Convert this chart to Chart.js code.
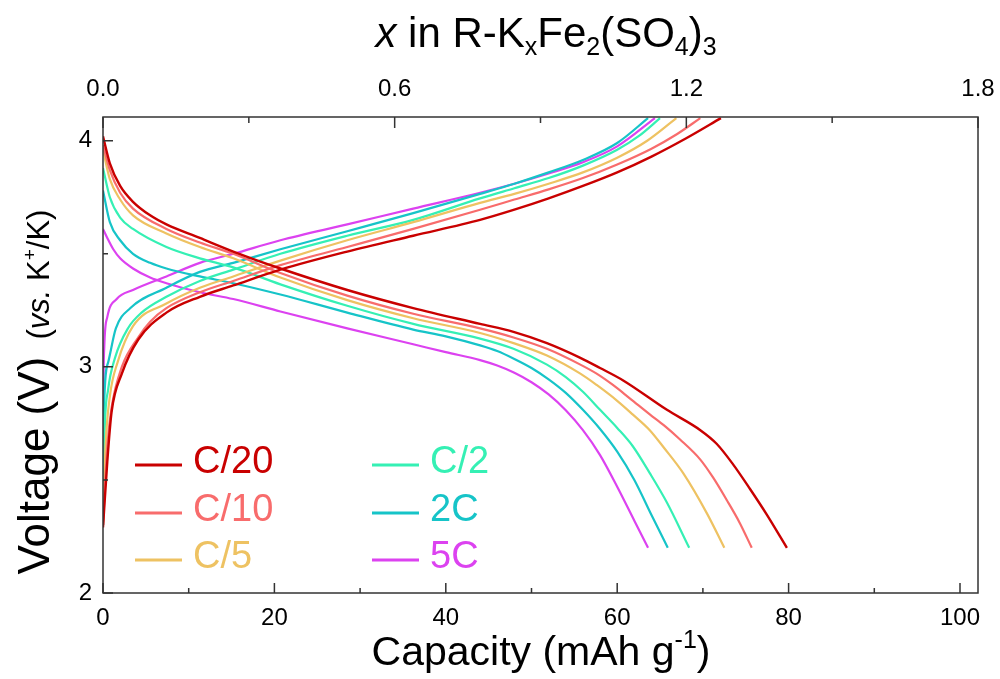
<!DOCTYPE html>
<html>
<head>
<meta charset="utf-8">
<script src="https://cdn.jsdelivr.net/npm/chart.js@4.4.1/dist/chart.umd.min.js"></script>
<style>
  html, body { margin: 0; padding: 0; background: #fff; }
  #wrap { width: 1000px; height: 679px; }
</style>
</head>
<body>
<div id="wrap"><canvas id="chart" width="1000" height="679"></canvas></div>
<script>
// rates and colours
const rateLabels = ['C/20', 'C/10', 'C/5', 'C/2', '2C', '5C'];
const rateColors = ['#c90000', '#f86c6c', '#eec262', '#35f0b4', '#16c4c8', '#dc42f0'];

// charge curves [capacity mAh/g, voltage V]
const c20Charge = [[0,2.29],[0.5,2.58],[1.0,2.80],[2.2,2.97],[4.1,3.12],[7.4,3.24],[11.3,3.31],[15.2,3.36],[20.7,3.43],[28.5,3.51],[36.2,3.58],[44,3.65],[48,3.695],[52,3.745],[56,3.80],[60,3.86],[64,3.93],[68,4.01],[72.1,4.10]];
const c10Charge = [[0,2.30],[0.5,2.65],[1.0,2.82],[2.2,3.00],[4.1,3.13],[5.5,3.20],[7.4,3.26],[11.3,3.33],[15.2,3.38],[20.7,3.45],[28.5,3.53],[36.2,3.61],[44,3.695],[48,3.74],[52,3.785],[56,3.835],[60,3.895],[64,3.965],[67,4.03],[69.7,4.10]];
const c5Charge = [[0,2.30],[0.3,2.65],[0.8,2.87],[1.7,3.02],[3.5,3.18],[7.4,3.28],[11.3,3.35],[15.2,3.40],[20.7,3.47],[28.5,3.56],[36.2,3.64],[44,3.725],[48,3.765],[52,3.81],[56,3.86],[60,3.925],[63.5,4.00],[66.9,4.10]];
const c2Charge = [[0,2.30],[0.2,2.72],[0.6,2.90],[1.4,3.04],[2.9,3.17],[4.5,3.24],[7.4,3.31],[11.3,3.38],[15.2,3.43],[20.7,3.50],[28.5,3.58],[36.2,3.65],[44,3.745],[48,3.79],[52,3.835],[56,3.89],[60,3.96],[62.5,4.02],[65,4.10]];
const twoCCharge = [[0,2.30],[0.1,2.80],[0.6,3.02],[1.5,3.17],[3.2,3.26],[7.4,3.35],[11.3,3.42],[15.2,3.46],[20.7,3.52],[28.5,3.60],[36.2,3.68],[44,3.765],[48,3.81],[52,3.86],[56,3.915],[60,3.99],[63.6,4.10]];
const fiveCCharge = [[0,2.30],[0.05,2.87],[0.15,3.09],[0.5,3.22],[1.6,3.30],[3.5,3.34],[7.4,3.40],[11.3,3.46],[15.2,3.50],[20.7,3.56],[28.5,3.63],[36.2,3.70],[44,3.77],[48,3.81],[52,3.855],[56,3.905],[60,3.975],[64.4,4.10]];

// discharge curves [capacity mAh/g, voltage V]
const c20Discharge = [[0,4.02],[0.8,3.90],[2.0,3.80],[3.5,3.73],[5.5,3.67],[7.4,3.63],[11.3,3.57],[15.2,3.51],[20.7,3.435],[28.5,3.34],[36.2,3.26],[44,3.19],[47.9,3.155],[51.8,3.105],[55.7,3.04],[58,2.995],[60.7,2.94],[65.8,2.81],[69.7,2.72],[71.6,2.66],[73.5,2.57],[75.5,2.46],[77.4,2.35],[79.8,2.20]];
const c10Discharge = [[0,3.98],[0.8,3.87],[2.0,3.77],[3.5,3.70],[7.4,3.61],[11.3,3.55],[15.2,3.50],[20.7,3.415],[28.5,3.315],[36.2,3.235],[44,3.17],[47.9,3.13],[51.8,3.08],[55.7,3.01],[57.6,2.97],[59.5,2.92],[61.5,2.86],[63.8,2.79],[65.5,2.74],[67.3,2.68],[69.7,2.59],[71.2,2.51],[72.8,2.41],[74.3,2.31],[75.7,2.20]];
const c5Discharge = [[0,3.96],[0.8,3.83],[2.0,3.74],[3.5,3.67],[7.4,3.59],[11.3,3.53],[15.2,3.48],[20.7,3.395],[28.5,3.295],[36.2,3.215],[44,3.15],[47.9,3.105],[51.8,3.05],[55.7,2.97],[57.6,2.92],[60,2.85],[61.8,2.79],[63.8,2.72],[65.5,2.64],[67.7,2.53],[70.5,2.35],[72.5,2.20]];
const c2Discharge = [[0,3.88],[0.8,3.75],[2.0,3.66],[3.5,3.61],[7.4,3.53],[11.3,3.48],[15.2,3.44],[20.7,3.365],[28.5,3.27],[36.2,3.19],[44,3.125],[47.9,3.08],[51.8,3.01],[54,2.955],[56,2.89],[58,2.81],[60,2.73],[61.8,2.65],[63.8,2.53],[65.8,2.40],[68.4,2.20]];
const twoCDischarge = [[0,3.78],[0.8,3.64],[2.0,3.56],[3.5,3.50],[5.5,3.46],[7.4,3.435],[11.3,3.40],[15.2,3.37],[20.7,3.32],[28.5,3.24],[36.2,3.165],[40,3.135],[44,3.095],[46,3.07],[48,3.035],[50,2.995],[52,2.945],[54,2.885],[56,2.81],[58,2.725],[60,2.625],[62,2.50],[64,2.345],[65.9,2.20]];
const fiveCDischarge = [[0,3.61],[0.5,3.57],[1.2,3.52],[2.0,3.48],[3.5,3.435],[5.5,3.395],[7.4,3.37],[11.3,3.33],[15.2,3.30],[20.7,3.245],[28.5,3.17],[36.2,3.10],[40,3.065],[44,3.03],[46,3.006],[48,2.974],[50,2.932],[52,2.878],[54,2.808],[56,2.72],[58,2.61],[60,2.47],[62,2.32],[63.6,2.20]];

const chargeCurves = [c20Charge, c10Charge, c5Charge, c2Charge, twoCCharge, fiveCCharge];
const dischargeCurves = [c20Discharge, c10Discharge, c5Discharge, c2Discharge, twoCDischarge, fiveCDischarge];

// axis ticks
const capMajor = [0, 20, 40, 60, 80, 100];
const capMinor = [10, 30, 50, 70, 90];
const voltMajor = [2, 3, 4];
const voltMinor = [2.5, 3.5];
const xMajor = [0.0, 0.6, 1.2, 1.8];
const xMinor = [0.3, 0.9, 1.5];

const FONT = '"Liberation Sans", Arial, sans-serif';
const AXIS = '#333';

const isIn = (arr, v) => arr.some(m => Math.abs(m - v) < 1e-6);
const setTicks = (major, minor) => s => {
  s.ticks = major.concat(minor).sort((a, b) => a - b).map(v => ({ value: v }));
};

const datasets = [];
rateLabels.forEach((lab, i) => {
  [chargeCurves[i], dischargeCurves[i]].forEach((curve, k) => {
    datasets.push({
      label: lab + (k ? ' discharge' : ' charge'),
      data: curve.map(p => ({ x: p[0], y: p[1] })),
      borderColor: rateColors[i],
      borderWidth: i === 0 ? 2.4 : 2.2,
      pointRadius: 0,
      fill: false,
      cubicInterpolationMode: 'monotone',
      xAxisID: 'x',
      yAxisID: 'y'
    });
  });
});

// draws a run of text pieces with different size / style / offset
function richText(ctx, parts, x, y, align) {
  let total = 0;
  parts.forEach(p => {
    ctx.font = (p.italic ? 'italic ' : '') + p.size + 'px ' + FONT;
    p.w = ctx.measureText(p.t).width;
    total += p.w;
  });
  let cx = align === 'center' ? x - total / 2 : x;
  parts.forEach(p => {
    ctx.font = (p.italic ? 'italic ' : '') + p.size + 'px ' + FONT;
    ctx.fillText(p.t, cx, y + (p.dy || 0));
    cx += p.w;
  });
}

const decorPlugin = {
  id: 'decor',
  afterDraw(chart) {
    const ctx = chart.ctx;
    const a = chart.chartArea;
    const sx = chart.scales.x, sx2 = chart.scales.x2, sy = chart.scales.y;
    ctx.save();

    // frame
    ctx.strokeStyle = AXIS;
    ctx.lineWidth = 1.5;
    ctx.strokeRect(a.left, a.top, a.right - a.left, a.bottom - a.top);

    // inward tick marks
    ctx.beginPath();
    sx.ticks.forEach(t => {
      const px = sx.getPixelForValue(t.value);
      const len = isIn(capMajor, t.value) ? 10 : 5;
      ctx.moveTo(px, a.bottom); ctx.lineTo(px, a.bottom - len);
    });
    sx2.ticks.forEach(t => {
      const px = sx2.getPixelForValue(t.value);
      const len = isIn(xMajor, t.value) ? 11 : 6;
      ctx.moveTo(px, a.top); ctx.lineTo(px, a.top + len);
    });
    sy.ticks.forEach(t => {
      const py = sy.getPixelForValue(t.value);
      const len = isIn(voltMajor, t.value) ? 10 : 5;
      ctx.moveTo(a.left, py); ctx.lineTo(a.left + len, py);
    });
    ctx.stroke();

    // axis titles
    ctx.fillStyle = '#000';
    ctx.textBaseline = 'alphabetic';
    richText(ctx, [
      { t: 'Capacity (mAh g', size: 41 },
      { t: '-1', size: 25, dy: -17 },
      { t: ')', size: 41 }
    ], 541, 665, 'center');

    richText(ctx, [
      { t: 'x', size: 42, italic: true },
      { t: ' in R-K', size: 42 },
      { t: 'x', size: 25, dy: 8 },
      { t: 'Fe', size: 42 },
      { t: '2', size: 25, dy: 8 },
      { t: '(SO', size: 42 },
      { t: '4', size: 25, dy: 8 },
      { t: ')', size: 42 },
      { t: '3', size: 25, dy: 8 }
    ], 546, 47, 'center');

    ctx.save();
    ctx.translate(49, 392);
    ctx.rotate(-Math.PI / 2);
    richText(ctx, [
      { t: 'Voltage (V)', size: 44 },
      { t: '  (', size: 31 },
      { t: 'vs.', size: 31, italic: true },
      { t: ' K', size: 31 },
      { t: '+', size: 19, dy: -13 },
      { t: '/K)', size: 31 }
    ], 0, 0, 'center');
    ctx.restore();

    // legend inside plot
    const colX = [135, 372];
    const rowY = [465, 513, 560];
    rateLabels.forEach((lab, i) => {
      const x0 = colX[Math.floor(i / 3)];
      const y0 = rowY[i % 3];
      ctx.strokeStyle = rateColors[i];
      ctx.lineWidth = 3;
      ctx.beginPath();
      ctx.moveTo(x0, y0); ctx.lineTo(x0 + 47, y0);
      ctx.stroke();
      ctx.fillStyle = rateColors[i];
      ctx.font = '38px ' + FONT;
      ctx.fillText(lab, x0 + 58, y0 + 8);
    });

    ctx.restore();
  }
};

const tickFont = { family: FONT, size: 24 };
const noSidePad = s => { s.paddingLeft = 0; s.paddingRight = 0; };

new Chart(document.getElementById('chart'), {
  type: 'line',
  data: { datasets },
  plugins: [decorPlugin],
  options: {
    responsive: false,
    animation: false,
    layout: { padding: { left: 0, right: 22, top: 0, bottom: 0 } },
    plugins: { legend: { display: false }, tooltip: { enabled: false } },
    scales: {
      x: {
        type: 'linear', position: 'bottom', min: 0, max: 102.1,
        afterBuildTicks: setTicks(capMajor, capMinor),
        afterFit: s => { s.height = 86; noSidePad(s); },
        grid: { display: false, drawTicks: false },
        border: { display: false },
        ticks: {
          autoSkip: false, maxRotation: 0, padding: 11, color: '#000', font: tickFont,
          callback: v => isIn(capMajor, v) ? String(v) : ''
        }
      },
      x2: {
        type: 'linear', position: 'top', min: 0, max: 1.8,
        afterBuildTicks: setTicks(xMajor, xMinor),
        afterFit: s => { s.height = 117; noSidePad(s); },
        grid: { display: false, drawTicks: false },
        border: { display: false },
        ticks: {
          autoSkip: false, maxRotation: 0, padding: 13, color: '#000', font: tickFont,
          callback: v => isIn(xMajor, v) ? v.toFixed(1) : ''
        }
      },
      y: {
        type: 'linear', position: 'left', min: 2, max: 4.105,
        afterBuildTicks: setTicks(voltMajor, voltMinor),
        afterFit: s => { s.width = 103; s.paddingTop = 0; s.paddingBottom = 0; },
        grid: { display: false, drawTicks: false },
        border: { display: false },
        ticks: {
          autoSkip: false, padding: 11, color: '#000', font: tickFont,
          callback: v => isIn(voltMajor, v) ? String(v) : ''
        }
      }
    }
  }
});
</script>
</body>
</html>
